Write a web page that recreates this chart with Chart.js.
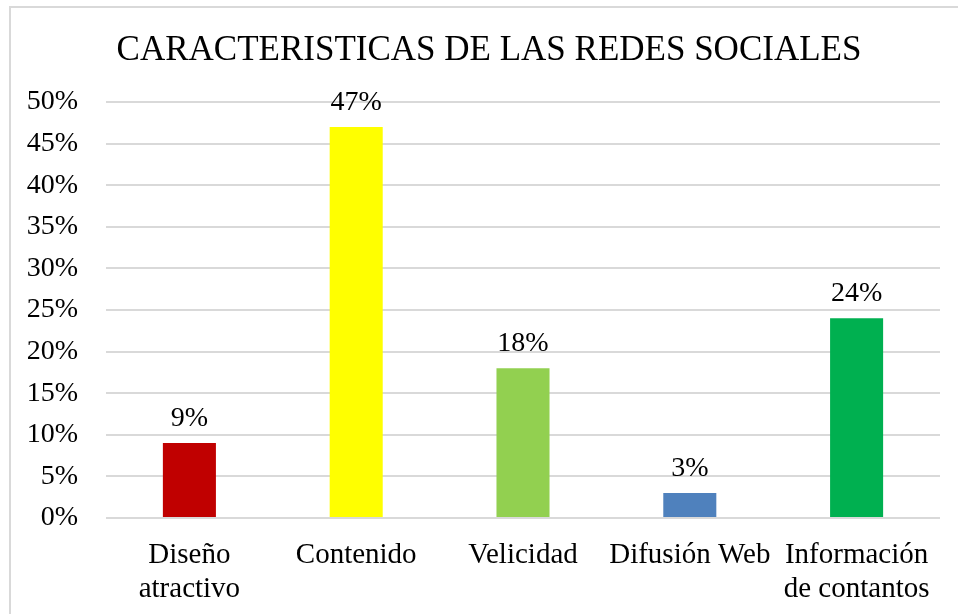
<!DOCTYPE html>
<html>
<head>
<meta charset="utf-8">
<script src="https://cdn.jsdelivr.net/npm/chart.js@4"></script>
<style>
  html, body { margin: 0; padding: 0; background: #fff; }
  #wrap { position: relative; width: 958px; height: 614px; overflow: hidden; }
  #marco { position: absolute; left: 9px; top: 6px; width: 970px; height: 630px; border: 2px solid #d9d9d9; pointer-events: none; }
</style>
</head>
<body>
<div id="wrap">
  <canvas id="grafico" width="958" height="614"></canvas>
  <div id="marco"></div>
</div>
<script>
// datos del grafico
const categorias = [["Diseño", "atractivo"], "Contenido", "Velicidad", "Difusión Web", ["Información", "de contantos"]];
const valores = [9, 47, 18, 3, 24];
const colores = ["#C00000", "#FFFF00", "#92D050", "#4F81BD", "#00B050"];
const titulo = "CARACTERISTICAS DE LAS REDES SOCIALES";

const fuente = "'Liberation Serif', 'Times New Roman', serif";

// etiquetas encima de cada barra
const etiquetasBarras = {
  id: "etiquetasBarras",
  afterDatasetsDraw(chart) {
    const ctx = chart.ctx;
    const meta = chart.getDatasetMeta(0);
    ctx.save();
    ctx.font = "28px " + fuente;
    ctx.fillStyle = "#000";
    ctx.textAlign = "center";
    ctx.textBaseline = "alphabetic";
    meta.data.forEach(function (barra, i) {
      ctx.fillText(valores[i] + "%", barra.x, barra.y - 17);
    });
    ctx.restore();
  }
};

// el titulo va un poco a la derecha, como en el original
const moverTitulo = {
  id: "moverTitulo",
  afterLayout(chart) {
    if (chart.titleBlock) {
      chart.titleBlock.left += 19;
      chart.titleBlock.right += 19;
    }
  }
};

new Chart(document.getElementById("grafico"), {
  type: "bar",
  data: {
    labels: categorias,
    datasets: [{
      data: valores,
      backgroundColor: colores,
      barPercentage: 0.318,
      categoryPercentage: 1
    }]
  },
  options: {
    responsive: false,
    animation: false,
    layout: { padding: { left: 0, right: 18, top: 0, bottom: 0 } },
    plugins: {
      legend: { display: false },
      tooltip: { enabled: false },
      title: {
        display: true,
        text: titulo,
        color: "#000",
        font: { family: fuente, size: 35, weight: "normal", lineHeight: 1.2 },
        padding: { top: 30, bottom: 30 }
      }
    },
    scales: {
      x: {
        grid: { display: false },
        border: { display: false },
        ticks: {
          color: "#000",
          font: { family: fuente, size: 29, lineHeight: 1.17 },
          padding: 12,
          maxRotation: 0,
          autoSkip: false
        },
        afterFit: function (scale) { scale.height = 96; }
      },
      y: {
        min: 0,
        max: 50,
        grid: { color: "#d9d9d9", lineWidth: 2, drawTicks: false },
        border: { display: false },
        ticks: {
          stepSize: 5,
          color: "#000",
          padding: 28,
          font: { family: fuente, size: 28 },
          callback: function (v) { return v + "%"; }
        },
        afterFit: function (scale) { scale.width = 106; }
      }
    }
  },
  plugins: [etiquetasBarras, moverTitulo]
});
</script>
</body>
</html>
